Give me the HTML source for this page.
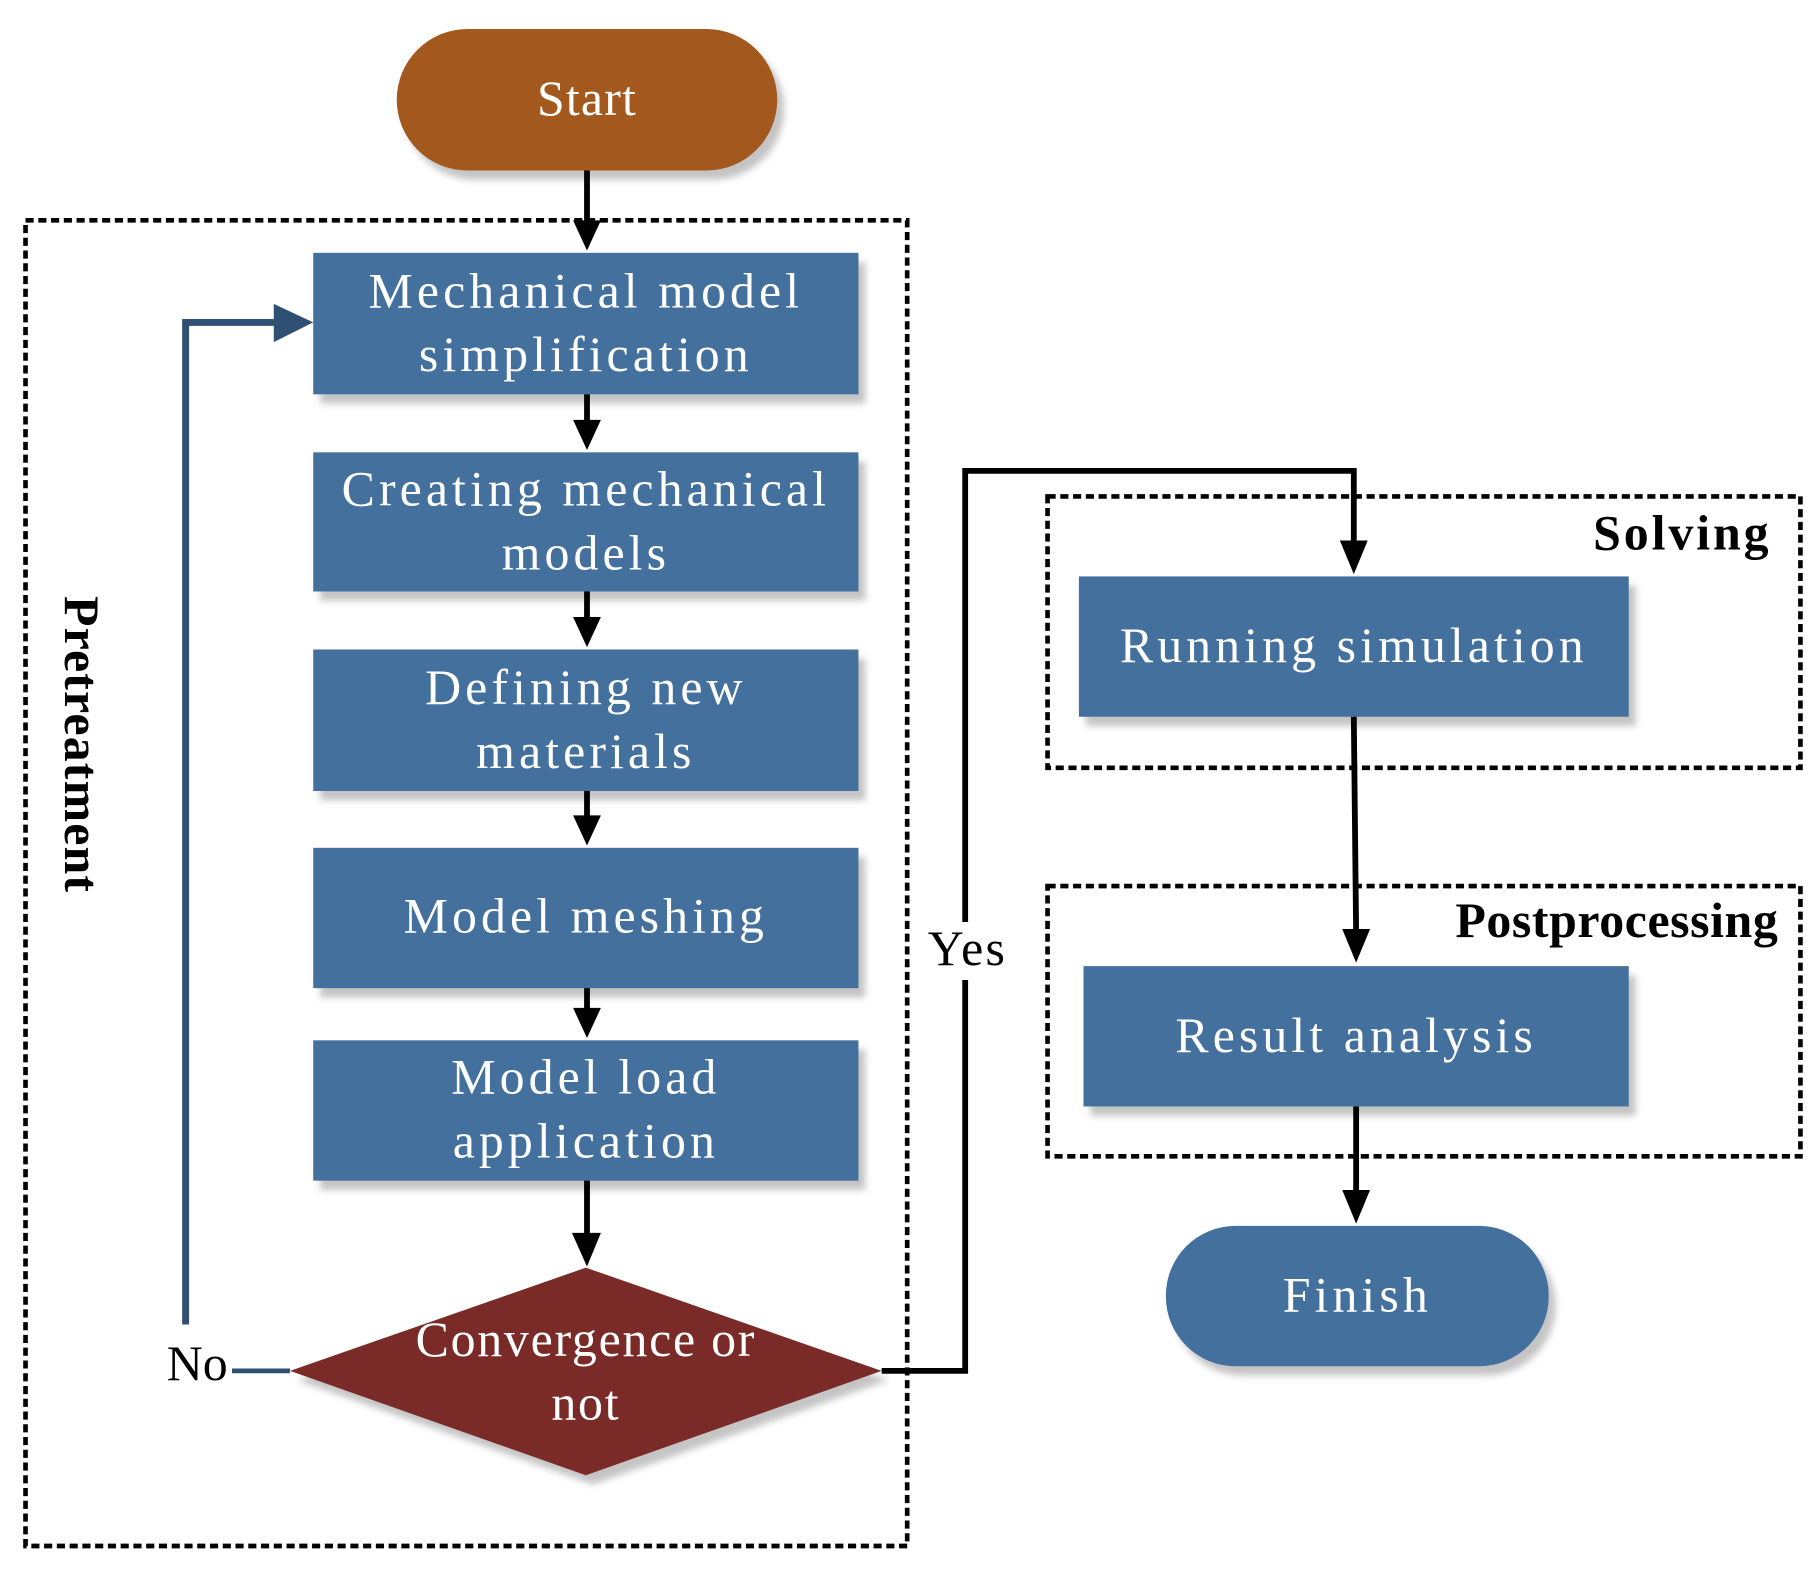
<!DOCTYPE html>
<html><head><meta charset="utf-8"><style>html,body{margin:0;padding:0;background:#fff}svg{display:block}</style></head><body>
<svg width="1819" height="1575" viewBox="0 0 1568 1358" preserveAspectRatio="none" xmlns="http://www.w3.org/2000/svg" font-family="Liberation Serif, serif">
<defs><filter id="bl"><feGaussianBlur stdDeviation="3"/></filter></defs>
<g fill="#c4c4c4" filter="url(#bl)">
<rect x="348" y="33" width="328" height="122" rx="61"/>
<rect x="276" y="226" width="470" height="122"/>
<rect x="276" y="398" width="470" height="120"/>
<rect x="276" y="568" width="470" height="122"/>
<rect x="276" y="739" width="470" height="121"/>
<rect x="276" y="905" width="470" height="121"/>
<polygon points="256,1190 511,1101 766,1190 511,1280"/>
<rect x="936" y="505" width="474" height="121"/>
<rect x="940" y="841" width="470" height="121"/>
<rect x="1011" y="1065" width="330" height="121" rx="60"/>
</g>
<rect x="22" y="190" width="760" height="1143" fill="none" stroke="#000" stroke-width="4" stroke-dasharray="7,4"/>
<rect x="903" y="428" width="649" height="234" fill="none" stroke="#000" stroke-width="4" stroke-dasharray="7,4"/>
<rect x="903" y="764" width="649" height="233" fill="none" stroke="#000" stroke-width="4" stroke-dasharray="7,4"/>
<rect x="342" y="25" width="328" height="122" rx="61" fill="#a3581e"/>
<g fill="#44709e">
<rect x="270" y="218" width="470" height="122"/>
<rect x="270" y="390" width="470" height="120"/>
<rect x="270" y="560" width="470" height="122"/>
<rect x="270" y="731" width="470" height="121"/>
<rect x="270" y="897" width="470" height="121"/>
<rect x="930" y="497" width="474" height="121"/>
<rect x="934" y="833" width="470" height="121"/>
<rect x="1005" y="1057" width="330" height="121" rx="60"/>
</g>
<polygon points="250,1182 505,1093 760,1182 505,1272" fill="#7a2b27"/>
<g stroke="#000" stroke-width="5" fill="none">
<line x1="506" y1="147" x2="506" y2="195"/>
<line x1="506" y1="340" x2="506" y2="365"/>
<line x1="506" y1="510" x2="506" y2="535"/>
<line x1="506" y1="682" x2="506" y2="706"/>
<line x1="506" y1="852" x2="506" y2="872"/>
<line x1="506" y1="1018" x2="506" y2="1068"/>
<polyline points="760,1182 832,1182 832,406 1167,406 1167,470"/>
<line x1="1167" y1="618" x2="1169" y2="805"/>
<line x1="1169" y1="954" x2="1169" y2="1030"/>
</g>
<g fill="#000">
<polygon points="494,190 518,190 506,216"/>
<polygon points="494,362 518,362 506,388"/>
<polygon points="494,532 518,532 506,558"/>
<polygon points="494,703 518,703 506,729"/>
<polygon points="494,869 518,869 506,895"/>
<polygon points="493,1063 518,1063 506,1092"/>
<polygon points="1155,466 1179,466 1167,495"/>
<polygon points="1157,801 1181,801 1169,830"/>
<polygon points="1157,1026 1181,1026 1169,1055"/>
</g>
<rect x="795" y="795" width="78" height="50" fill="#fff"/>
<polyline points="250,1182 200,1182" stroke="#2f5073" stroke-width="4" fill="none"/>
<polyline points="160,1142 160,278 240,278" stroke="#2f5073" stroke-width="6" fill="none"/>
<polygon points="236,262 270,278 236,295" fill="#2f5073"/>
<g fill="#fff" text-anchor="middle" font-size="43" letter-spacing="3.5">
<text x="506" y="99" letter-spacing="1">Start</text>
<text x="505" y="265">Mechanical model</text>
<text x="505" y="320">simplification</text>
<text x="505" y="436">Creating mechanical</text>
<text x="505" y="491">models</text>
<text x="505" y="607">Defining new</text>
<text x="505" y="662">materials</text>
<text x="505" y="804">Model meshing</text>
<text x="505" y="943">Model load</text>
<text x="505" y="998">application</text>
<text x="505" y="1169" letter-spacing="1.5">Convergence or</text>
<text x="505" y="1224" letter-spacing="1.5">not</text>
<text x="1167" y="571">Running simulation</text>
<text x="1169" y="907">Result analysis</text>
<text x="1170" y="1131">Finish</text>
</g>
<g fill="#000" font-size="43">
<text x="834" y="832" text-anchor="middle" letter-spacing="2">Yes</text>
<text x="170" y="1190" text-anchor="middle">No</text>
<text x="1527" y="474" text-anchor="end" font-weight="bold" letter-spacing="2.5">Solving</text>
<text x="1533" y="808" text-anchor="end" font-weight="bold" letter-spacing="0.5">Postprocessing</text>
<text transform="translate(56,642) rotate(90)" text-anchor="middle" font-weight="bold" letter-spacing="1">Pretreatment</text>
</g>
</svg>
</body></html>
